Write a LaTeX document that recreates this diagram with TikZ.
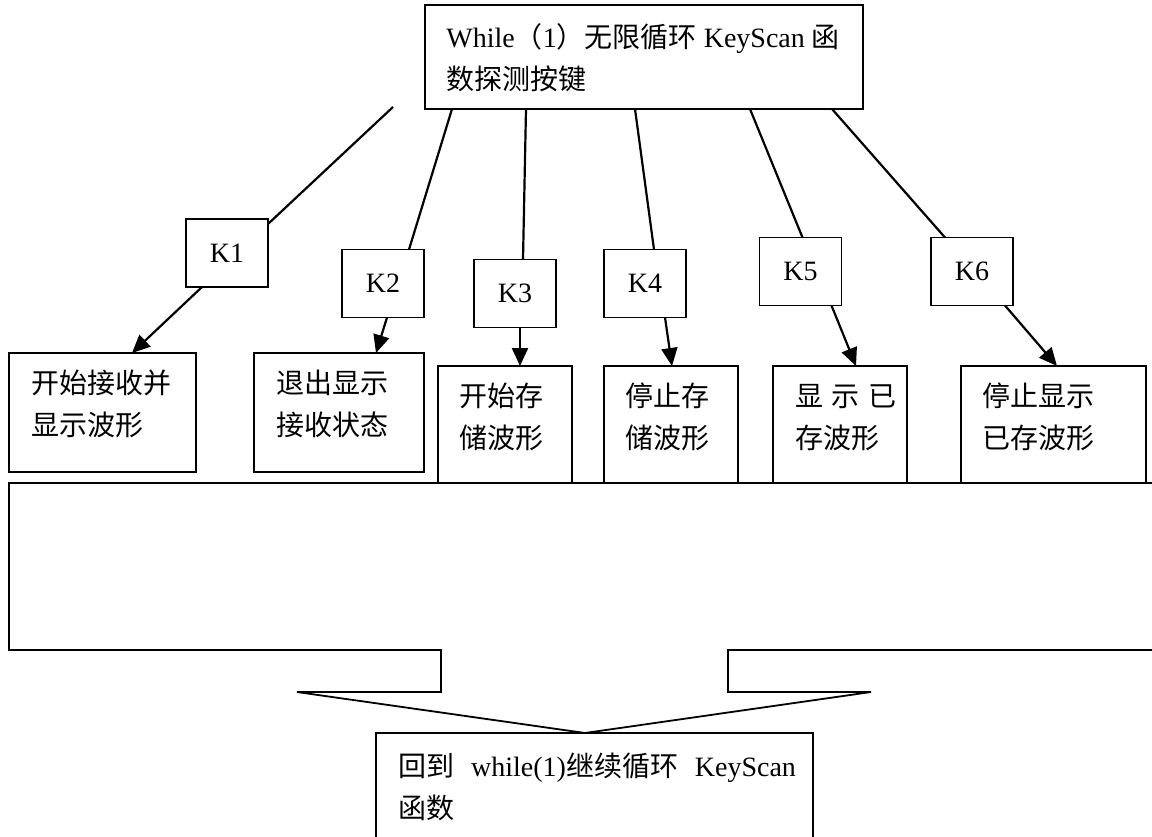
\documentclass[tikz,border=0pt]{standalone}
\usepackage{fontspec}
\setmainfont{Liberation Serif}
\newfontfamily\cjk{Noto Sans CJK SC}
\newcommand\zhf[1]{{\cjk #1}}
\usetikzlibrary{arrows.meta,calc}
\begin{document}
\begin{tikzpicture}[x=0.5pt,y=-0.5pt,
  box/.style={draw, line width=0.9pt, inner sep=0pt, outer sep=0pt},
  kbox/.style={box, minimum width=41pt, minimum height=34pt, font=\fontsize{14}{17}\selectfont},
  outline/.style={draw, line width=0.9pt},
  link/.style={line width=1.1pt},
  arr/.style={line width=1.1pt, -{Triangle[length=9pt,width=8pt]}},
  txt/.style={anchor=base west, inner sep=0pt, font=\fontsize{14}{21}\selectfont}
]
\useasboundingbox (0,0) rectangle (1152,836);
\clip (0,0) rectangle (1152,836);

% top box
\node[box, minimum width=219pt, minimum height=52pt] (top) at (644,57) {};
\node[txt] (ttop) at (446,47) {\begin{tabular}[t]{@{}l@{}}While\zhf{（}1\zhf{）无限循环} KeyScan \zhf{函}\\\zhf{数探测按键}\end{tabular}};

% key boxes
\node[kbox] (k1) at (227,253) {K1};
\node[kbox] (k2) at (383,283.5) {K2};
\node[kbox] (k3) at (515,293.5) {K3};
\node[kbox] (k4) at (645,283.5) {K4};
\node[kbox] (k5) at (800.5,271.5) {K5};
\node[kbox] (k6) at (972,271.5) {K6};

% action boxes
\node[box, minimum width=93.5pt, minimum height=59.5pt] (b1) at (102.5,412.5) {};
\node[box, minimum width=85pt, minimum height=59.5pt] (b2) at (339,412.5) {};
\node[box, minimum width=67pt, minimum height=58.5pt] (b3) at (505,424.5) {};
\node[box, minimum width=67pt, minimum height=58.5pt] (b4) at (671,424.5) {};
\node[box, minimum width=67pt, minimum height=58.5pt] (b5) at (840,424.5) {};
\node[box, minimum width=92.5pt, minimum height=58.5pt] (b6) at (1053.5,424.5) {};

\node[txt] (t1) at (31,393) {\begin{tabular}[t]{@{}l@{}}\zhf{开始接收并}\\\zhf{显示波形}\end{tabular}};
\node[txt] (t2) at (276,393) {\begin{tabular}[t]{@{}l@{}}\zhf{退出显示}\\\zhf{接收状态}\end{tabular}};
\node[txt] (t3) at (459,406) {\begin{tabular}[t]{@{}l@{}}\zhf{开始存}\\\zhf{储波形}\end{tabular}};
\node[txt] (t4) at (625,406) {\begin{tabular}[t]{@{}l@{}}\zhf{停止存}\\\zhf{储波形}\end{tabular}};
\node[txt] (t5) at (795,406) {\begin{tabular}[t]{@{}l@{}}\zhf{显}\hspace{0.3em}\zhf{示}\hspace{0.3em}\zhf{已}\\\zhf{存波形}\end{tabular}};
\node[txt] (t6) at (982,406) {\begin{tabular}[t]{@{}l@{}}\zhf{停止显示}\\\zhf{已存波形}\end{tabular}};

% bottom box
\node[box, minimum width=218.5pt, minimum height=63.5pt] (bot) at (594.5,796.5) {};
\node[txt] (tbot) at (398,776) {\begin{tabular}[t]{@{}l@{}}\zhf{回到}\hspace{0.6em}while(1)\zhf{继续循环}\hspace{0.6em}KeyScan\\\zhf{函数}\end{tabular}};

% big callout outline
\draw[outline] (1170,483) -- (9,483) -- (9,650) -- (441,650) -- (441,692) -- (297,692)
  -- ($(bot.north)+(-9.5,0)$) -- (871,692) -- (728,692) -- (728,650) -- (1170,650);

% connectors from top box to keys
\coordinate (k1free) at (393,107);
\draw[link] (k1free) -- ($(k1.north east)+(0,5)$);
\draw[link] ($(top.south west)+(27,0)$) -- ($(k2.north)+(26,0)$);
\draw[link] ($(top.south west)+(101,0)$) -- ($(k3.north)+(8,0)$);
\draw[link] ($(top.south west)+(210,0)$) -- ($(k4.north)+(9,0)$);
\draw[link] ($(top.south west)+(325,0)$) -- ($(k5.north)+(2,0)$);
\draw[link] ($(top.south west)+(407,0)$) -- ($(k6.north)+(-27,0)$);

% arrows from keys to actions
\draw[arr] ($(k1.south)+(-25,0)$) -- ($(b1.north)+(29.5,0)$);
\draw[arr] ($(k2.south)+(4,0)$) -- ($(b2.north)+(37,0)$);
\draw[arr] ($(k3.south)+(5,0)$) -- ($(b3.north)+(15,0)$);
\draw[arr] ($(k4.south)+(20,0)$) -- ($(b4.north)+(1,0)$);
\draw[arr] ($(k5.south)+(31,0)$) -- ($(b5.north)+(16,0)$);
\draw[arr] ($(k6.south)+(33,0)$) -- ($(b6.north)+(3.5,0)$);
\end{tikzpicture}
\end{document}
